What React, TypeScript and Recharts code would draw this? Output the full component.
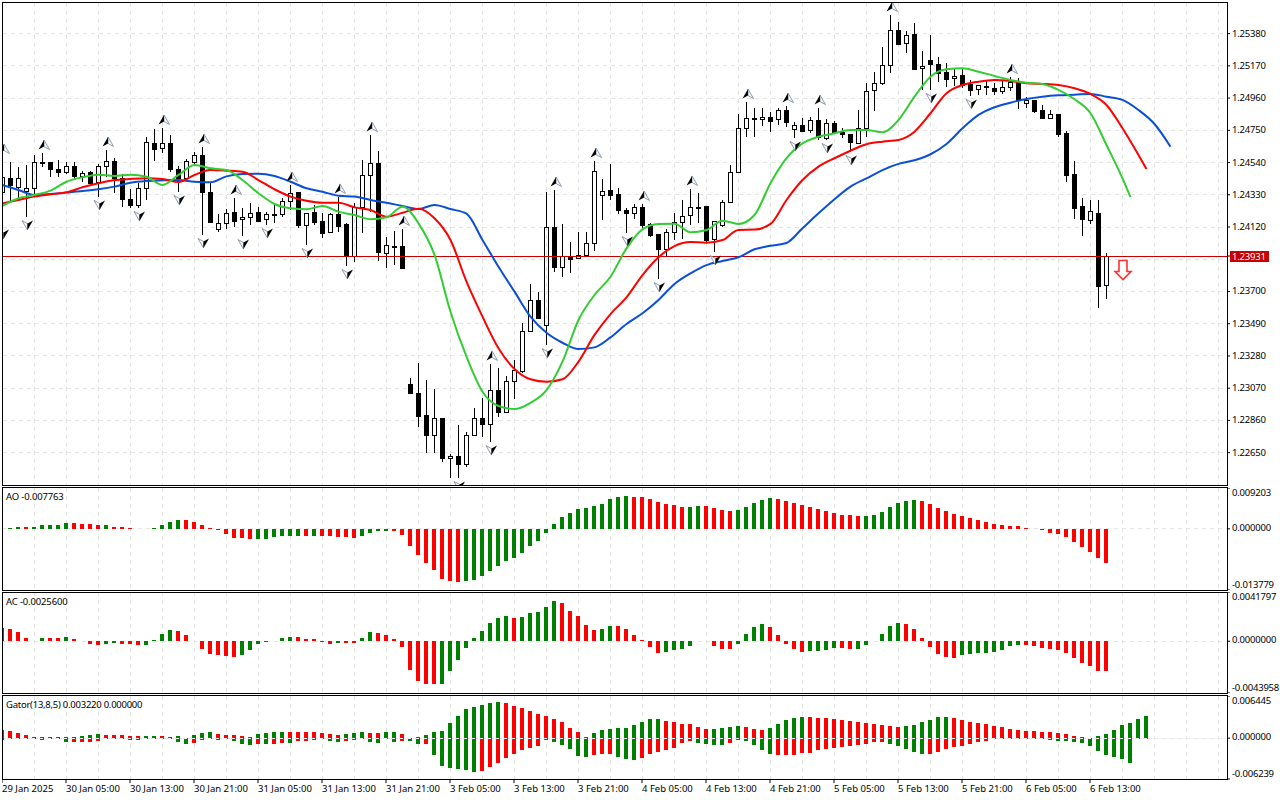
import { Bar, CartesianGrid, Cell, ComposedChart, Line, ReferenceDot, ReferenceLine, XAxis, YAxis } from "recharts";

const FONT = "'Noto Sans', sans-serif";
const GRID = "#e4e4e4";
const UP = "#008000";
const DOWN = "#ff0000";

const candleOpen = [
  1.24348, 1.24439, 1.24381, 1.24355, 1.24374, 1.24537, 1.24544, 1.24498, 1.24478, 1.24518,
  1.24452, 1.24478, 1.24413, 1.24518, 1.2455, 1.24439, 1.24302, 1.24263, 1.24374, 1.24667,
  1.24635, 1.24667, 1.24498, 1.24439, 1.24544, 1.24589, 1.24348, 1.24107, 1.24146, 1.24218,
  1.24172, 1.24185, 1.24218, 1.24172, 1.24205, 1.24205, 1.2429, 1.24348, 1.24133, 1.24218,
  1.24159, 1.24088, 1.24205, 1.2414, 1.23931, 1.2425, 1.24459, 1.24537, 1.23951, 1.23996,
  1.23996, 1.23097, 1.23039, 1.22895, 1.22765, 1.22876, 1.22615, 1.22628, 1.22576, 1.22765,
  1.22876, 1.22837, 1.23058, 1.22915, 1.23117, 1.23182, 1.23443, 1.23645, 1.23482, 1.2412,
  1.2386, 1.23931, 1.23918, 1.23938, 1.24016, 1.24329, 1.24361, 1.24335, 1.24231, 1.24211,
  1.2425, 1.2414, 1.24075, 1.23977, 1.24088, 1.24153, 1.24198, 1.2425, 1.24257, 1.24042,
  1.24133, 1.24283, 1.24478, 1.24765, 1.2483, 1.24824, 1.24837, 1.24824, 1.24882, 1.24759,
  1.24785, 1.24752, 1.24817, 1.247, 1.24798, 1.24739, 1.24726, 1.24667, 1.24765, 1.25013,
  1.25058, 1.25176, 1.25404, 1.25319, 1.25377, 1.25156, 1.25208, 1.25182, 1.2513, 1.25091,
  1.2511, 1.25052, 1.25019, 1.25039, 1.25026, 1.25006, 1.25032, 1.25065, 1.24928, 1.24948,
  1.24882, 1.2483, 1.24856, 1.24732, 1.24465, 1.24257, 1.24166, 1.24211, 1.23742,
];
const candleHigh = [
  1.24576, 1.24544, 1.24511, 1.24524, 1.24589, 1.24602, 1.24544, 1.24557, 1.24544, 1.24544,
  1.24485, 1.24485, 1.24531, 1.24622, 1.2457, 1.24465, 1.24368, 1.24407, 1.24706, 1.24759,
  1.24765, 1.24719, 1.24518, 1.24563, 1.24609, 1.24641, 1.24407, 1.24205, 1.24237, 1.24309,
  1.24244, 1.24276, 1.2425, 1.24218, 1.24276, 1.24309, 1.24394, 1.24348, 1.24211, 1.24263,
  1.24211, 1.24211, 1.24316, 1.24146, 1.24276, 1.24557, 1.24719, 1.24615, 1.24055, 1.24094,
  1.24107, 1.23136, 1.23234, 1.23123, 1.23065, 1.22876, 1.22641, 1.2283, 1.22785, 1.22941,
  1.23006, 1.23228, 1.23201, 1.23149, 1.23254, 1.23495, 1.23749, 1.23697, 1.24348, 1.24361,
  1.2414, 1.24022, 1.24088, 1.24088, 1.2455, 1.24433, 1.24531, 1.24374, 1.24244, 1.2427,
  1.2427, 1.24146, 1.24075, 1.24107, 1.24211, 1.24296, 1.24368, 1.24342, 1.24257, 1.24159,
  1.24296, 1.24524, 1.24856, 1.24934, 1.24895, 1.24895, 1.24869, 1.24895, 1.24908, 1.24804,
  1.2483, 1.24837, 1.24895, 1.24824, 1.24811, 1.24765, 1.24726, 1.24882, 1.25058, 1.2513,
  1.25293, 1.25501, 1.25456, 1.25397, 1.25449, 1.25267, 1.25371, 1.25228, 1.25189, 1.25149,
  1.25156, 1.25078, 1.25045, 1.25078, 1.25058, 1.25071, 1.25097, 1.25091, 1.24967, 1.24948,
  1.24915, 1.24882, 1.24856, 1.24746, 1.2455, 1.24309, 1.24296, 1.24296, 1.23951,
];
const candleLow = [
  1.24127, 1.24283, 1.24309, 1.24185, 1.24316, 1.24511, 1.24446, 1.24446, 1.24465, 1.24433,
  1.24413, 1.244, 1.24316, 1.24446, 1.24342, 1.2425, 1.24244, 1.24244, 1.24296, 1.2455,
  1.24602, 1.24478, 1.24348, 1.24426, 1.24524, 1.24068, 1.24146, 1.24088, 1.24107, 1.2412,
  1.24061, 1.24133, 1.24153, 1.24133, 1.24146, 1.24185, 1.24231, 1.24114, 1.24003, 1.24133,
  1.24048, 1.24081, 1.24088, 1.23866, 1.23892, 1.24081, 1.24218, 1.23899, 1.23853, 1.23873,
  1.23853, 1.23039, 1.22817, 1.22648, 1.22648, 1.22589, 1.22485, 1.22485, 1.22556, 1.22758,
  1.22752, 1.22719, 1.22882, 1.22915, 1.22999, 1.23169, 1.23436, 1.23527, 1.23351, 1.23827,
  1.23794, 1.2382, 1.23912, 1.23925, 1.23964, 1.24166, 1.24296, 1.24205, 1.24081, 1.24172,
  1.24114, 1.24055, 1.23781, 1.23925, 1.24035, 1.24042, 1.24133, 1.24146, 1.24016, 1.23957,
  1.2412, 1.24276, 1.24472, 1.24706, 1.24706, 1.24778, 1.24739, 1.24785, 1.24772, 1.247,
  1.24739, 1.24732, 1.24687, 1.24687, 1.24732, 1.247, 1.24609, 1.24667, 1.24706, 1.24876,
  1.25045, 1.25123, 1.25306, 1.25254, 1.25143, 1.25013, 1.25013, 1.25065, 1.25032, 1.25039,
  1.25026, 1.24974, 1.2498, 1.2498, 1.2498, 1.24987, 1.25006, 1.24889, 1.24895, 1.24863,
  1.24824, 1.24824, 1.24706, 1.24413, 1.24172, 1.24061, 1.2414, 1.23592, 1.23651,
];
const candleClose = [
  1.24446, 1.24394, 1.24439, 1.24374, 1.24544, 1.24544, 1.24498, 1.24478, 1.24518, 1.24452,
  1.24472, 1.24407, 1.24518, 1.2455, 1.24439, 1.24302, 1.24263, 1.24374, 1.24674, 1.24628,
  1.24667, 1.24498, 1.24439, 1.2455, 1.24589, 1.24348, 1.24153, 1.24146, 1.24211, 1.24159,
  1.24185, 1.24211, 1.24159, 1.24205, 1.24198, 1.2429, 1.24342, 1.24133, 1.24211, 1.24153,
  1.24081, 1.24205, 1.24127, 1.23931, 1.2425, 1.24459, 1.24537, 1.23957, 1.24003, 1.2399,
  1.23853, 1.23039, 1.22889, 1.22765, 1.22876, 1.22615, 1.22628, 1.22576, 1.22765, 1.22876,
  1.22837, 1.23058, 1.22915, 1.23117, 1.23188, 1.23443, 1.23645, 1.23527, 1.2412, 1.2386,
  1.23931, 1.23912, 1.23938, 1.24016, 1.24485, 1.24355, 1.24329, 1.24231, 1.24211, 1.2425,
  1.24133, 1.24068, 1.23977, 1.24088, 1.24153, 1.24192, 1.2425, 1.24244, 1.24035, 1.24159,
  1.24283, 1.24478, 1.24765, 1.2483, 1.24824, 1.24837, 1.24811, 1.24882, 1.24804, 1.24785,
  1.24746, 1.24817, 1.24706, 1.24798, 1.24739, 1.24726, 1.24674, 1.24765, 1.25006, 1.25058,
  1.25176, 1.25404, 1.25312, 1.25371, 1.25149, 1.25169, 1.25182, 1.25123, 1.25084, 1.25104,
  1.25045, 1.25013, 1.25045, 1.25032, 1.25006, 1.25032, 1.25065, 1.24948, 1.24948, 1.24876,
  1.2483, 1.24856, 1.24726, 1.24459, 1.24244, 1.24172, 1.24224, 1.23736, 1.23931,
];

// alligator
const jawLine = [
  1.24394, 1.24361, 1.24329, 1.24335, 1.24344, 1.24355, 1.24366, 1.24383, 1.24409, 1.2442,
  1.24424, 1.24426, 1.24415, 1.24411, 1.2445, 1.24465, 1.24467, 1.24452, 1.24415, 1.24372,
  1.2435, 1.24324, 1.24318, 1.24296, 1.24278, 1.24257, 1.24237, 1.24263, 1.24237, 1.24207,
  1.24035, 1.23861, 1.23699, 1.23536, 1.23431, 1.23366, 1.23325, 1.23336, 1.23401, 1.23488,
  1.23558, 1.23645, 1.23749, 1.23818, 1.23872, 1.23899, 1.23923, 1.23975, 1.23998, 1.24016,
  1.24112, 1.24209, 1.24301, 1.24383, 1.24437, 1.24491, 1.24531, 1.24555, 1.24594, 1.24661,
  1.24763, 1.2485, 1.249, 1.2493, 1.24954, 1.24969, 1.24978, 1.24982, 1.24987, 1.24969,
  1.24948, 1.24882, 1.24791, 1.24643,
];
const teethLine = [
  1.24274, 1.24296, 1.24318, 1.24333, 1.24346, 1.24379, 1.24405, 1.24426, 1.24433, 1.24437,
  1.24433, 1.24413, 1.24459, 1.24491, 1.24487, 1.2448, 1.24426, 1.24366, 1.24318, 1.24291,
  1.24278, 1.24278, 1.24248, 1.24231, 1.24187, 1.24213, 1.24239, 1.24177, 1.24035, 1.23764,
  1.23536, 1.2333, 1.23195, 1.23128, 1.23112, 1.23128, 1.23243, 1.23417, 1.23553, 1.23662,
  1.23807, 1.23923, 1.23996, 1.24022, 1.24018, 1.24035, 1.24101, 1.24103, 1.2414, 1.24296,
  1.24426, 1.24513, 1.24568, 1.24617, 1.24659, 1.24676, 1.24687, 1.24741, 1.24861, 1.24991,
  1.25045, 1.25067, 1.25078, 1.25071, 1.25056, 1.25052, 1.25045, 1.25024, 1.24987, 1.24915,
  1.24763, 1.24589,
];
const teethLast = 1.24498;
const lipsLine = [
  1.24257, 1.24307, 1.24329, 1.24357, 1.24415, 1.24444, 1.24461, 1.24452, 1.24461, 1.24448,
  1.24394, 1.24459, 1.24524, 1.24503, 1.24491, 1.24426, 1.2434, 1.2427, 1.24242, 1.24235,
  1.24257, 1.2422, 1.24198, 1.2417, 1.24183, 1.24252, 1.24144, 1.23938, 1.23568, 1.23275,
  1.23047, 1.22954, 1.22934, 1.22975, 1.23058, 1.23243, 1.23514, 1.23677, 1.23796, 1.23981,
  1.24105, 1.2414, 1.24142, 1.24086, 1.24101, 1.24161, 1.2414, 1.24198, 1.24405, 1.24568,
  1.24665, 1.24708, 1.24731, 1.24752, 1.24752, 1.24737, 1.24817, 1.24969, 1.25099, 1.25147,
  1.25154, 1.25132, 1.25104, 1.25078, 1.2506, 1.25052, 1.25013, 1.24952, 1.24861, 1.24654,
  1.24437,
];
const lipsLast = 1.24314;

const fractalUpBars = [0, 5, 13, 20, 25, 29, 36, 42, 46, 50, 61, 69, 74, 80, 86, 93, 98, 102, 111, 126];
const fractalDownBars = [0, 3, 12, 17, 22, 25, 30, 33, 38, 43, 57, 61, 68, 78, 82, 89, 99, 103, 106, 116, 121];

const aoValues = [
  0.000076, 0.000227, 0.000453, 0.000453, 0.000453, 0.000906, 0.000906, 0.000906, 0.001359, 0.001208,
  0.000982, 0.000982, 0.000755, 0.000755, 0.000453, 0.000453, 0.000227, 0.000076, 0.000076, 0.000227,
  0.000906, 0.001435, 0.001888, 0.001888, 0.001435, 0.000755, 0.000151, -0.000227, -0.001057, -0.001963,
  -0.002114, -0.00234, -0.00219, -0.00219, -0.001888, -0.001661, -0.00151, -0.00151, -0.00151, -0.00151,
  -0.00151, -0.001661, -0.001737, -0.001737, -0.001963, -0.00151, -0.000831, -0.000529, -0.000529, -0.000529,
  -0.001284, -0.003775, -0.005814, -0.007626, -0.009211, -0.01125, -0.011703, -0.011929, -0.011703, -0.011476,
  -0.01057, -0.009438, -0.0083, -0.00717, -0.006493, -0.00536, -0.003775, -0.002643, -0.000831, 0.001133,
  0.002567, 0.003473, 0.004379, 0.004606, 0.005059, 0.005512, 0.006644, 0.007097, 0.007324, 0.007248,
  0.007097, 0.006644, 0.005965, 0.005512, 0.005285, 0.004832, 0.004832, 0.005059, 0.005059, 0.004606,
  0.004153, 0.003926, 0.004153, 0.004832, 0.005738, 0.006418, 0.00687, 0.006644, 0.006191, 0.005738,
  0.005285, 0.004832, 0.004379, 0.003926, 0.003473, 0.00302, 0.00302, 0.002794, 0.002794, 0.00302,
  0.0037, 0.004832, 0.005738, 0.006191, 0.006418, 0.006191, 0.005512, 0.004606, 0.003926, 0.003247,
  0.002794, 0.00234, 0.001888, 0.001435, 0.000982, 0.000755, 0.000529, 0.000529, 0.000302, 0.000076,
  -0.000302, -0.000831, -0.001057, -0.001737, -0.002869, -0.004, -0.005134, -0.006493, -0.007763,
];
const aoRising = [
  1, 1, 1, 0, 1, 1, 1, 1, 1, 0,
  0, 0, 0, 1, 0, 0, 0, 0, 0, 1,
  1, 1, 1, 0, 0, 0, 0, 0, 0, 0,
  0, 0, 1, 1, 1, 1, 1, 1, 0, 1,
  0, 0, 0, 0, 0, 1, 1, 1, 1, 0,
  0, 0, 0, 0, 0, 0, 0, 0, 1, 1,
  1, 1, 1, 1, 1, 1, 1, 1, 1, 1,
  1, 1, 1, 1, 1, 1, 1, 1, 1, 0,
  0, 0, 0, 0, 0, 0, 1, 1, 0, 0,
  0, 0, 1, 1, 1, 1, 1, 0, 0, 0,
  0, 0, 0, 0, 0, 0, 0, 0, 1, 1,
  1, 1, 1, 1, 1, 0, 0, 0, 0, 0,
  0, 0, 0, 0, 0, 0, 0, 0, 0, 0,
  0, 0, 0, 0, 0, 0, 0, 0, 0,
];

const acValues = [
  0.001081, 0.001024, 0.000768, 0.000256, 0.000028, 0.000256, 0.000256, 0.000256, 0.000341, 0.000171,
  0.000028, -0.000256, -0.000341, -0.000228, -0.000142, -0.000228, -0.000228, -0.000341, -0.000341, 0.000085,
  0.000597, 0.000939, 0.000853, 0.000512, 0.000028, -0.000683, -0.001109, -0.001194, -0.00128, -0.001365,
  -0.001194, -0.000768, -0.000228, -0.000028, 0.000057, 0.000256, 0.000341, 0.000341, 0.000171, 0.000171,
  -0.000057, -0.000256, -0.000114, -0.000114, -0.000142, 0.000256, 0.000768, 0.000683, 0.000512, 0.000171,
  -0.000512, -0.002474, -0.003413, -0.003669, -0.003669, -0.003669, -0.00256, -0.001621, -0.000597, 0.000256,
  0.000853, 0.001536, 0.001962, 0.002133, 0.001962, 0.002048, 0.002389, 0.002474, 0.002901, 0.003413,
  0.003242, 0.00256, 0.002133, 0.001365, 0.000939, 0.001024, 0.00128, 0.00128, 0.001024, 0.000512,
  0.000085, -0.000512, -0.001024, -0.000939, -0.000768, -0.000683, -0.000427, 0.000028, 0.000028, -0.000427,
  -0.000683, -0.000683, -0.000256, 0.000597, 0.001194, 0.00145, 0.001194, 0.000512, -0.000256, -0.000683,
  -0.000939, -0.000853, -0.000853, -0.000768, -0.000597, -0.000597, -0.000683, -0.000683, -0.000341, 0.000028,
  0.000597, 0.00128, 0.001536, 0.00145, 0.001024, 0.000256, -0.000512, -0.001109, -0.001365, -0.00145,
  -0.001194, -0.001109, -0.001024, -0.001024, -0.000939, -0.000768, -0.000427, -0.000341, -0.000341, -0.000427,
  -0.000597, -0.000683, -0.000768, -0.001024, -0.00145, -0.001877, -0.002133, -0.00256, -0.00256,
];
const acRising = [
  1, 0, 0, 0, 0, 1, 0, 0, 1, 0,
  0, 0, 0, 1, 1, 0, 0, 0, 1, 1,
  1, 1, 0, 0, 0, 0, 0, 0, 0, 0,
  1, 1, 1, 1, 1, 1, 1, 0, 0, 0,
  0, 0, 1, 0, 0, 1, 1, 0, 0, 0,
  0, 0, 0, 0, 0, 1, 1, 1, 1, 1,
  1, 1, 1, 1, 0, 1, 1, 1, 1, 1,
  0, 0, 0, 0, 0, 1, 1, 0, 0, 0,
  0, 0, 0, 1, 1, 1, 1, 1, 0, 0,
  0, 0, 1, 1, 1, 1, 0, 0, 0, 0,
  0, 1, 1, 1, 1, 0, 0, 1, 1, 1,
  1, 1, 1, 0, 0, 0, 0, 0, 0, 0,
  1, 1, 1, 1, 1, 1, 1, 1, 0, 0,
  0, 0, 0, 0, 0, 0, 0, 0, 0,
];

const gatorUpper = [
  0.001223, 0.001121, 0.000815, 0.000509, 0.000204, 0.000153, 0.000153, 0.000153, 0.000153, 0.000153,
  0.000357, 0.000509, 0.000662, 0.000509, 0.000509, 0.000509, 0.000357, 0.000357, 0.000357, 0.000357,
  0.000357, 0.000204, 0.000357, 0.000051, 0.000509, 0.000815, 0.000968, 0.000662, 0.000509, 0.000509,
  0.000357, 0.000204, 0.000662, 0.000815, 0.000968, 0.000968, 0.000968, 0.000968, 0.000968, 0.000968,
  0.000815, 0.000662, 0.000509, 0.000662, 0.000815, 0.000968, 0.000815, 0.000815, 0.000968, 0.000968,
  0.000662, 0, 0.000153, 0.000509, 0.000968, 0.001121, 0.002343, 0.003413, 0.004483, 0.004788,
  0.005094, 0.0054, 0.005552, 0.0054, 0.004941, 0.004636, 0.004177, 0.003719, 0.003413, 0.002955,
  0.002496, 0.001579, 0.000968, 0.000204, 0.000815, 0.001274, 0.001426, 0.001579, 0.001579, 0.002038,
  0.002496, 0.002955, 0.002955, 0.002649, 0.002496, 0.00219, 0.00219, 0.001732, 0.001426, 0.001426,
  0.001579, 0.001732, 0.001885, 0.001732, 0.001426, 0.001274, 0.001579, 0.00219, 0.002802, 0.003107,
  0.00326, 0.00326, 0.003107, 0.003107, 0.002955, 0.002802, 0.002649, 0.002496, 0.002343, 0.00219,
  0.002038, 0.001885, 0.001732, 0.001885, 0.002038, 0.002496, 0.002802, 0.00326, 0.00326, 0.003107,
  0.002802, 0.002496, 0.002343, 0.00219, 0.001885, 0.001732, 0.001426, 0.001274, 0.001121, 0.001121,
  0.000968, 0.000968, 0.000815, 0.000662, 0.000357, 0.000204, 0.000051, 0.000357, 0.000662, 0.001274,
  0.002038, 0.002343, 0.002955, 0.003413,
];
const gatorUpperRising = [
  1, 0, 0, 0, 0, 0, 0, 0, 1, 1,
  1, 1, 1, 0, 0, 0, 0, 0, 1, 1,
  0, 0, 1, 0, 1, 1, 1, 0, 0, 0,
  0, 0, 1, 1, 1, 1, 0, 0, 0, 0,
  0, 0, 0, 1, 1, 1, 0, 0, 1, 1,
  0, 1, 1, 1, 1, 1, 1, 1, 1, 1,
  1, 1, 1, 0, 0, 0, 0, 0, 0, 0,
  0, 0, 0, 0, 1, 1, 1, 1, 1, 1,
  1, 1, 1, 0, 0, 0, 0, 0, 0, 1,
  1, 1, 1, 0, 0, 0, 1, 1, 1, 1,
  1, 0, 0, 0, 0, 0, 0, 0, 0, 0,
  0, 0, 0, 1, 1, 1, 1, 1, 1, 0,
  0, 0, 0, 0, 0, 0, 0, 0, 0, 0,
  0, 0, 0, 0, 0, 0, 1, 1, 1, 1,
  1, 1, 1, 1,
];
const gatorLower = [
  -0.000204, -0.000102, -0.000102, -0.000102, -0.000051, -0.000204, -0.000102, -0.000153, -0.00056, -0.00056,
  -0.00056, -0.00056, -0.000408, -0.000102, -0.000102, -0.000102, -0.000204, -0.000204, -0.000102, -0.000102,
  -0.000102, -0.000051, -0.000509, -0.000815, -0.000662, -0.000204, -0.000051, -0.000204, -0.000051, -0.000357,
  -0.000815, -0.000968, -0.000866, -0.000866, -0.000815, -0.000662, -0.000662, -0.000408, -0.000408, -0.000255,
  -0.000102, -0.000357, -0.000509, -0.000357, -0.000204, -0.000051, -0.000509, -0.000662, -0.000051, -0.000509,
  -0.000408, -0.000357, -0.000866, -0.000866, -0.002547, -0.004228, -0.004534, -0.004686, -0.004839, -0.005145,
  -0.004992, -0.004381, -0.00377, -0.003005, -0.002394, -0.001783, -0.001477, -0.001172, -0.000255, -0.00056,
  -0.001019, -0.00163, -0.0027, -0.002853, -0.002547, -0.002394, -0.002394, -0.002853, -0.003158, -0.003311,
  -0.003005, -0.002394, -0.002089, -0.001783, -0.001477, -0.000662, -0.000408, -0.000713, -0.000866, -0.001019,
  -0.001019, -0.000713, -0.000255, -0.000408, -0.001019, -0.001783, -0.002394, -0.002547, -0.002547, -0.002547,
  -0.002241, -0.002241, -0.001783, -0.00163, -0.001477, -0.001324, -0.001172, -0.001019, -0.000866, -0.00056,
  -0.00056, -0.000866, -0.001172, -0.00163, -0.002089, -0.002394, -0.002394, -0.002089, -0.00163, -0.001324,
  -0.001172, -0.000866, -0.00056, -0.000408, -0.000051, -0.000102, -0.000102, -0.000102, -0.000102, -0.000102,
  -0.000102, -0.000255, -0.000408, -0.000357, -0.00056, -0.000713, -0.001172, -0.001936, -0.002547, -0.002853,
  -0.003158, -0.00377, -0.000102, -0.000102,
];
const gatorLowerRising = [
  0, 1, 1, 0, 0, 1, 0, 1, 1, 0,
  0, 0, 0, 0, 0, 0, 1, 0, 1, 1,
  1, 0, 1, 1, 0, 0, 0, 1, 1, 1,
  1, 1, 0, 1, 0, 0, 1, 0, 0, 0,
  0, 1, 1, 0, 0, 0, 1, 1, 0, 1,
  0, 1, 1, 0, 1, 1, 1, 1, 1, 1,
  0, 0, 0, 0, 0, 0, 0, 0, 0, 1,
  1, 1, 1, 1, 0, 0, 0, 1, 1, 1,
  0, 0, 0, 0, 0, 0, 0, 1, 1, 1,
  1, 0, 0, 1, 1, 1, 1, 0, 0, 0,
  0, 0, 0, 0, 0, 0, 0, 0, 0, 0,
  0, 1, 1, 1, 1, 1, 0, 0, 0, 0,
  0, 0, 0, 0, 0, 0, 0, 0, 0, 1,
  1, 1, 1, 1, 1, 1, 1, 1, 1, 1,
  1, 1, 0, 0,
];

const priceTicks = [
  1.2538, 1.2517, 1.2496, 1.2475, 1.2454, 1.2433, 1.2412, 1.2391, 1.237, 1.2349, 1.2328, 1.2307, 1.2286, 1.2265,
];
const lastPrice = 1.23931;
const signalBar = 140;
const signalPrice = 1.23843;
const aoTicks = [0.009203, 0, -0.013779];
const acTicks = [0.0041797, 0, -0.0043958];
const gatorTicks = [0.006445, 0, -0.006239];

const timeBars = [0, 8, 16, 24, 32, 40, 48, 56, 64, 72, 80, 88, 96, 104, 112, 120, 128, 136];
const timeLabels = [
  "29 Jan 2025", "30 Jan 05:00", "30 Jan 13:00", "30 Jan 21:00", "31 Jan 05:00", "31 Jan 13:00",
  "31 Jan 21:00", "3 Feb 05:00", "3 Feb 13:00", "3 Feb 21:00", "4 Feb 05:00", "4 Feb 13:00",
  "4 Feb 21:00", "5 Feb 05:00", "5 Feb 13:00", "5 Feb 21:00", "6 Feb 05:00", "6 Feb 13:00",
];
const gridBars = Array.from({ length: 39 }, (_, i) => i * 4);

// one row per bar, the alligator runs past the last candle
const rows = Array.from({ length: 147 }, (_, k) => ({
  k,
  open: candleOpen[k],
  high: candleHigh[k],
  low: candleLow[k],
  close: candleClose[k],
  jaw: k % 2 === 0 ? jawLine[k / 2] : null,
  teeth: k === 143 ? teethLast : k % 2 === 0 ? teethLine[k / 2] ?? null : null,
  lips: k === 141 ? lipsLast : k % 2 === 0 ? lipsLine[k / 2] ?? null : null,
  fractalUp: fractalUpBars.includes(k) ? candleHigh[k] : null,
  fractalDown: fractalDownBars.includes(k) ? candleLow[k] : null,
  ao: aoValues[k],
  ac: acValues[k],
  gatorUp: gatorUpper[k],
  gatorDown: gatorLower[k],
}));

const Candle = (props: any) => {
  const { x, y, width, height, payload } = props;
  if (payload.high == null || !height) return null;
  const top = Math.min(y, y + height);
  const pxPerPrice = Math.abs(height) / (payload.high - payload.low);
  const toY = (p: number) => Math.round(top + (payload.high - p) * pxPerPrice);
  const bull = payload.close >= payload.open;
  const bodyTop = toY(Math.max(payload.open, payload.close));
  const bodyBottom = Math.max(toY(Math.min(payload.open, payload.close)), bodyTop + 1);
  const mid = Math.round(x) + 2.5;
  const left = Math.round(x);
  const wick = (a: number, b: number) => <line x1={mid} x2={mid} y1={a} y2={b} stroke="#000" strokeWidth={1} />;
  return (
    <g shapeRendering="crispEdges">
      {wick(toY(payload.high), bodyTop)}
      {wick(bodyBottom, toY(payload.low))}
      {bull ? (
        <rect x={left + 0.5} y={bodyTop + 0.5} width={4} height={bodyBottom - bodyTop} fill="none" stroke="#000" />
      ) : (
        <rect x={left} y={bodyTop} width={5} height={bodyBottom - bodyTop + 1} fill="#000" />
      )}
    </g>
  );
};

const FractalUp = (props: any) => {
  const { cx, cy, value, index } = props;
  if (value == null || cy == null) return <g key={index} />;
  const c = cx + 1.5;
  const m = cy - 8;
  return (
    <g key={index}>
      <polygon points={`${c},${m - 5} ${c + 5.5},${m + 4.5} ${c},${m + 1.5}`} fill="#fff" stroke="#7f8fa6" strokeWidth={0.9} />
      <polygon points={`${c},${m - 5} ${c - 5.5},${m + 4.5} ${c},${m + 1.5}`} fill="#000" />
    </g>
  );
};

const FractalDown = (props: any) => {
  const { cx, cy, value, index } = props;
  if (value == null || cy == null) return <g key={index} />;
  const c = cx + 1;
  const m = cy + 8;
  return (
    <g key={index}>
      <polygon points={`${c},${m + 5} ${c - 5.5},${m - 4.5} ${c},${m - 1.5}`} fill="#fff" stroke="#7f8fa6" strokeWidth={0.9} />
      <polygon points={`${c},${m + 5} ${c + 5.5},${m - 4.5} ${c},${m - 1.5}`} fill="#000" />
    </g>
  );
};

const SellArrow = (props: any) => {
  const { cx, cy } = props;
  const c = Math.round(cx);
  const t = cy - 9;
  const pts = [
    [c - 4, t], [c + 4, t], [c + 4, t + 11], [c + 8, t + 11], [c, t + 19], [c - 8, t + 11], [c - 4, t + 11],
  ].map((p) => p.join(",")).join(" ");
  return <polygon points={pts} fill="#fff" stroke="#ff3030" strokeWidth={1.6} />;
};

const PriceTick = (props: any) => {
  const { x, y, payload } = props;
  if (payload.value === lastPrice) {
    return (
      <g>
        <rect x={x - 2} y={y - 5} width={39} height={11} fill="#c80000" />
        <text x={x} y={y + 3.5} fontFamily={FONT} fontSize={9.5} letterSpacing={-0.2} fill="#fff">{lastPrice.toFixed(5)}</text>
      </g>
    );
  }
  return <text x={x} y={y + 3} fontFamily={FONT} fontSize={9.5} letterSpacing={-0.2} fill="#000">{payload.value.toFixed(5)}</text>;
};

// labels at the panel edges are pulled back inside the panel
const panelTick = (digits: number, ticks: number[]) => (props: any) => {
  const { x, y, payload } = props;
  const shift = payload.value === ticks[0] ? 8 : payload.value === ticks[2] ? -2 : 2;
  return <text x={x} y={y + shift} fontFamily={FONT} fontSize={9.5} letterSpacing={-0.2} fill="#000">{payload.value.toFixed(digits)}</text>;
};

const TimeTick = (props: any) => {
  const { x, y, payload } = props;
  return <text x={x} y={y + 8} fontFamily={FONT} fontSize={9.5} fill="#000">{timeLabels[timeBars.indexOf(payload.value)]}</text>;
};

const Frame = ({ top, height }: { top: number; height: number }) => (
  <div style={{ position: "absolute", left: 2, top, width: 1226, height, boxSizing: "border-box", border: "1px solid #000", pointerEvents: "none" }} />
);

const Caption = ({ top, text, spacing }: { top: number; text: string; spacing: number }) => (
  <div style={{ position: "absolute", left: 6, top, fontFamily: FONT, fontSize: 9.5, lineHeight: "12px", letterSpacing: spacing, color: "#000", whiteSpace: "nowrap" }}>{text}</div>
);

const HistPanel = ({ top, height, dataKey, rising, ticks, digits }: any) => (
  <div style={{ position: "absolute", left: 2, top }}>
    <ComposedChart width={1278} height={height} data={rows} margin={{ top: 0, right: 0, bottom: 0, left: 0 }}>
      <XAxis dataKey="k" type="number" domain={[0, 153.125]} ticks={timeBars} hide />
      <YAxis orientation="right" width={53} domain={[ticks[2], ticks[0]]} ticks={ticks} interval={0} allowDataOverflow axisLine={false} tickSize={3} tickMargin={2} tick={panelTick(digits, ticks)} tickLine={{ stroke: "#000" }} />
      <CartesianGrid stroke={GRID} strokeDasharray="4 4" verticalValues={gridBars} horizontalValues={[0]} />
      <Bar dataKey={dataKey} barSize={4} isAnimationActive={false}>
        {rows.map((r) => (
          <Cell key={r.k} fill={rising[r.k] ? UP : DOWN} />
        ))}
      </Bar>
    </ComposedChart>
  </div>
);

export default function App() {
  return (
    <div style={{ position: "absolute", left: 0, top: 0, width: 1280, height: 800, background: "#fff", overflow: "hidden" }}>
      <style>{`.recharts-bar-rectangle path, .recharts-cartesian-grid line, .recharts-reference-line line { shape-rendering: crispEdges; }`}</style>

      <div style={{ position: "absolute", left: 2, top: 3 }}>
        <ComposedChart width={1278} height={482} data={rows} margin={{ top: 0, right: 0, bottom: 0, left: 0.5 }}>
          <XAxis dataKey="k" type="number" domain={[0, 153.0625]} ticks={timeBars} hide />
          <YAxis orientation="right" width={53} domain={[1.224393, 1.255793]} ticks={[...priceTicks.filter((t) => t !== 1.2391), lastPrice]} interval={0} allowDataOverflow axisLine={false} tickSize={3} tickMargin={2} tick={PriceTick} tickLine={{ stroke: "#000" }} />
          <CartesianGrid stroke={GRID} strokeDasharray="4 4" verticalValues={gridBars} horizontalValues={priceTicks} />
          <ReferenceLine y={lastPrice} stroke="#c80000" strokeWidth={1} />
          <Bar dataKey={(d: any) => (d.high != null ? [d.low, d.high] : null)} barSize={5} shape={Candle} isAnimationActive={false} />
          <Line type="monotone" dataKey="jaw" stroke="#0a50d6" strokeWidth={2} dot={false} connectNulls isAnimationActive={false} />
          <Line type="monotone" dataKey="teeth" stroke="#ff0000" strokeWidth={2} dot={false} connectNulls isAnimationActive={false} />
          <Line type="monotone" dataKey="lips" stroke="#32cd32" strokeWidth={2} dot={false} connectNulls isAnimationActive={false} />
          <Line dataKey="fractalUp" stroke="none" dot={FractalUp} activeDot={false} isAnimationActive={false} />
          <Line dataKey="fractalDown" stroke="none" dot={FractalDown} activeDot={false} isAnimationActive={false} />
          <ReferenceDot x={signalBar} y={signalPrice} shape={SellArrow} />
        </ComposedChart>
      </div>

      <HistPanel top={488} height={102} dataKey="ao" rising={aoRising} ticks={aoTicks} digits={6} />
      <HistPanel top={592} height={101} dataKey="ac" rising={acRising} ticks={acTicks} digits={7} />

      <div style={{ position: "absolute", left: 2, top: 696 }}>
        <ComposedChart width={1278} height={104} data={rows} stackOffset="sign" margin={{ top: 0, right: 0, bottom: 0, left: 0 }}>
          <XAxis dataKey="k" type="number" domain={[0, 153.125]} ticks={timeBars} interval={0} height={21} tickSize={4} tickMargin={1} tick={TimeTick} axisLine={false} tickLine={{ stroke: "#000" }} />
          <YAxis orientation="right" width={53} domain={[gatorTicks[2], gatorTicks[0]]} ticks={gatorTicks} interval={0} allowDataOverflow axisLine={false} tickSize={3} tickMargin={2} tick={panelTick(6, gatorTicks)} tickLine={{ stroke: "#000" }} />
          <CartesianGrid stroke={GRID} strokeDasharray="4 4" verticalValues={gridBars} horizontalValues={[0]} />
          <Bar dataKey="gatorUp" stackId="gator" barSize={4} isAnimationActive={false}>
            {rows.map((r) => (
              <Cell key={r.k} fill={gatorUpperRising[r.k] ? UP : DOWN} />
            ))}
          </Bar>
          <Bar dataKey="gatorDown" stackId="gator" barSize={4} isAnimationActive={false}>
            {rows.map((r) => (
              <Cell key={r.k} fill={gatorLowerRising[r.k] ? UP : DOWN} />
            ))}
          </Bar>
          <ReferenceLine y={0} stroke="#f2f2f2" strokeDasharray="4 4" />
        </ComposedChart>
      </div>

      <Frame top={2} height={484} />
      <Frame top={487} height={104} />
      <Frame top={592} height={102} />
      <Frame top={695} height={85} />

      <Caption top={491} text="AO -0.007763" spacing={-0.15} />
      <Caption top={596} text="AC -0.0025600" spacing={-0.15} />
      <Caption top={699} text="Gator(13,8,5) 0.003220 0.000000" spacing={-0.25} />
    </div>
  );
}
